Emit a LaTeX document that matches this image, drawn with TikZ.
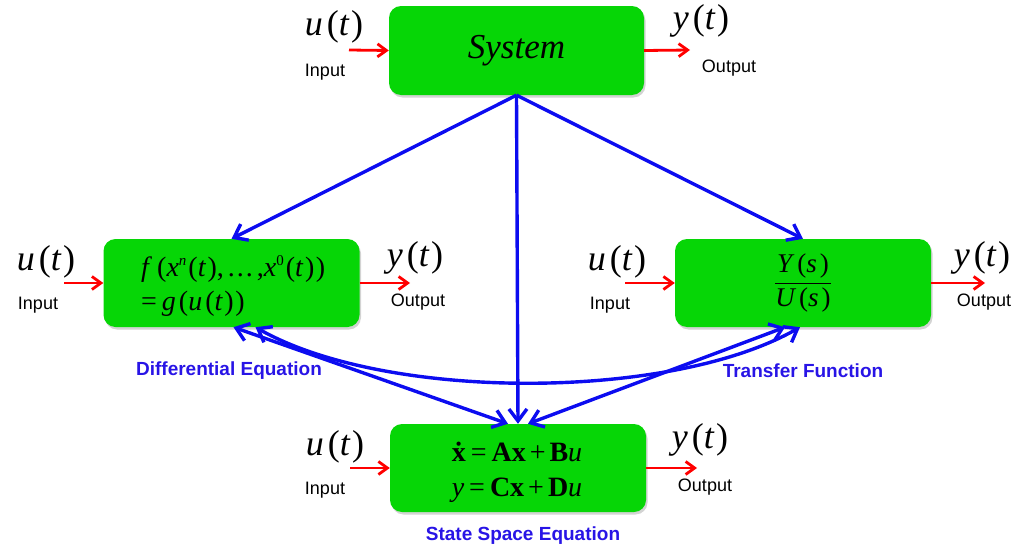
\documentclass[tikz,border=0pt]{standalone}
\usepackage{fontspec}
\setmainfont{Liberation Serif}
\setsansfont{Liberation Sans}
\usetikzlibrary{arrows.meta,shadows}
\definecolor{boxgreen}{RGB}{6,214,6}
\definecolor{arrblue}{RGB}{12,12,240}
\definecolor{lblblue}{RGB}{40,20,230}
\tikzset{
 blk/.style={draw=none, fill=boxgreen, rounded corners=12pt, minimum width=256pt, minimum height=88pt, inner sep=0pt,
   drop shadow={opacity=0.35, shadow xshift=1.5pt, shadow yshift=-2.5pt}},
 sig/.style={font=\fontsize{36}{38}\selectfont, inner sep=0pt},
 io/.style={font=\sffamily\fontsize{18}{20}\selectfont, inner sep=0pt},
 eq/.style={font=\fontsize{28}{33}\selectfont, inner sep=0pt},
 redarr/.style={red, line width=2.8pt, -{Straight Barb[length=9pt,width=13pt]}},
 bluearr/.style={arrblue, line width=3.4pt, -{Straight Barb[length=12pt,width=18pt]}},
 bluedbl/.style={arrblue, line width=3.4pt, {Straight Barb[length=12pt,width=18pt]}-{Straight Barb[length=12pt,width=18pt]}},
 caplbl/.style={lblblue, font=\sffamily\bfseries\fontsize{19}{21}\selectfont, inner sep=0pt},
}
\newcommand{\sigu}{\textit{u}\kern4pt(\textit{t}\kern1.5pt)}
\newcommand{\sigy}{\textit{y}\kern4pt(\textit{t}\kern1.5pt)}
\newcommand{\supsm}[1]{\raisebox{0.42em}{\fontsize{15}{15}\selectfont #1}}
\begin{document}
\begin{tikzpicture}[x=1pt,y=-1pt]
\useasboundingbox (0,0) rectangle (1021,546);
% boxes
\node[blk, minimum width=255pt, minimum height=89pt] (sys) at (516.5,50.5) {\fontsize{35}{37}\selectfont\itshape System};
\node[blk] (de) at (231.5,283) {};
\node[blk] (tf) at (803,283) {};
\node[blk] (ss) at (518,468) {};
% box contents
\node[eq, anchor=west, align=left] (detext) at (141,286) {\textit{f}\kern5pt(\textit{x}\supsm{\textit{n}}\kern2pt(\textit{t}\kern1.5pt),\kern4pt.\kern2pt.\kern2pt.\kern4pt,\textit{x}\supsm{0}\kern2pt(\textit{t}\kern1.5pt)\kern1.5pt)\\[1pt]=\kern5pt\textit{g}\kern3pt(\textit{u}\kern3pt(\textit{t}\kern1.5pt)\kern1.5pt)};
\node[inner sep=0pt, font=\fontsize{27}{29}\selectfont] (tftext) at (803,283) {$\displaystyle\frac{\mbox{\textit{Y}\kern3pt(\textit{s}\kern3pt)}}{\mbox{\textit{U}\kern3pt(\textit{s}\kern3pt)}}$};
\node[eq, align=center] (sstext) at (517,472) {\textbf{\.x}\kern5pt=\kern5pt\textbf{Ax}\kern4pt+\kern4pt\textbf{B}\textit{u}\\[2pt]\textit{y}\kern5pt=\kern5pt\textbf{Cx}\kern4pt+\kern4pt\textbf{D}\textit{u}};
% top system signals
\coordinate (sysin) at (349,50);
\coordinate (sysout) at (690,50);
\draw[redarr] (sysin) -- (sys.west);
\draw[redarr] (sys.east) -- (sysout);
\node[sig] (sysu) at (334,27) {\sigu};
\node[io] (sysinl) at (325,72) {Input};
\node[sig] (sysy) at (701,21) {\sigy};
\node[io] (sysoutl) at (729,68) {Output};
% differential equation signals
\coordinate (dein) at (64,283);
\coordinate (deout) at (410,283);
\draw[redarr] (dein) -- (de.west);
\draw[redarr] (de.east) -- (deout);
\node[sig] (deu) at (46,262) {\sigu};
\node[io] (deinl) at (38,305) {Input};
\node[sig] (dey) at (415,258) {\sigy};
\node[io] (deoutl) at (418,302) {Output};
% transfer function signals
\coordinate (tfin) at (625,283);
\coordinate (tfout) at (985,283);
\draw[redarr] (tfin) -- (tf.west);
\draw[redarr] (tf.east) -- (tfout);
\node[sig] (tfu) at (617,262) {\sigu};
\node[io] (tfinl) at (610,305) {Input};
\node[sig] (tfy) at (982,258) {\sigy};
\node[io] (tfoutl) at (984,302) {Output};
% state space signals
\coordinate (ssin) at (350,468);
\coordinate (ssout) at (697,468);
\draw[redarr] (ssin) -- (ss.west);
\draw[redarr] (ss.east) -- (ssout);
\node[sig] (ssu) at (335,447) {\sigu};
\node[io] (ssinl) at (325,490) {Input};
\node[sig] (ssy) at (700,440) {\sigy};
\node[io] (ssoutl) at (705,487) {Output};
% captions
\node[caplbl] (delbl) at (229,371) {Differential Equation};
\node[caplbl] (tflbl) at (803,371) {Transfer Function};
\node[caplbl] (sslbl) at (523,536) {State Space Equation};
% blue connectors
\draw[bluearr] (sys.south) -- (de.north);
\draw[bluearr] (sys.south) -- (tf.north);
\draw[bluearr] (sys.south) -- (ss.north);
\draw[bluedbl] ([xshift=2pt]de.south) -- ([xshift=-10pt]ss.north);
\draw[bluedbl] ([xshift=10pt]ss.north) -- ([xshift=-18pt]tf.south);
\draw[bluedbl] ([xshift=24pt]de.south) .. controls +(130,74) and +(-130,74) .. ([xshift=-3pt]tf.south);
\end{tikzpicture}
\end{document}
